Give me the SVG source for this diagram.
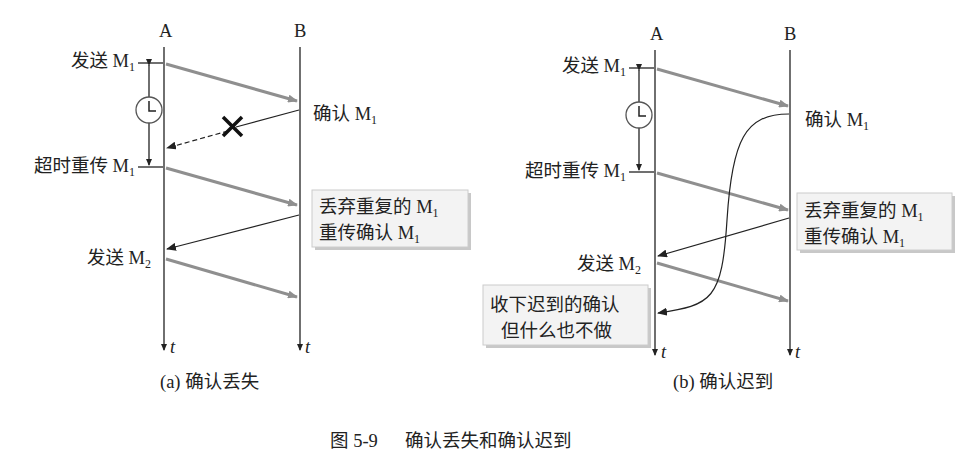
<svg xmlns="http://www.w3.org/2000/svg" width="969" height="467" viewBox="0 0 969 467">
<style>
text{font-family:"Liberation Serif","Noto Sans CJK SC",serif;font-size:18.5px;fill:#222}
.it{font-style:italic}
.e{text-anchor:end}
.tl{stroke:#222;stroke-width:1.3;fill:none}
.msg{stroke:#8f8f8f;stroke-width:3;fill:none}
.ack{stroke:#222;stroke-width:1.2;fill:none}
.box{fill:#f3f3f3;stroke:#ccc;stroke-width:1}
.sh{fill:#c8c8c8}
</style>
<defs>
<marker id="ah" markerWidth="10" markerHeight="8" refX="9" refY="4" orient="auto" markerUnits="userSpaceOnUse"><path d="M0,0 L10,4 L0,8 Z" fill="#222"/></marker>
<marker id="ag" markerWidth="10" markerHeight="8" refX="9" refY="4" orient="auto" markerUnits="userSpaceOnUse"><path d="M0,0 L10,4 L0,8 Z" fill="#8f8f8f"/></marker>
<marker id="as" markerWidth="7" markerHeight="6" refX="6" refY="3" orient="auto" markerUnits="userSpaceOnUse"><path d="M0,0 L7,3 L0,6 Z" fill="#222"/></marker>
</defs>
<rect width="969" height="467" fill="#fff"/>
<g id="panelA">
<g id="timelineA"><text x="159" y="37">A</text><text x="294" y="37">B</text>
<line class="tl" x1="164" y1="47" x2="164" y2="350" marker-end="url(#as)"/>
<line class="tl" x1="300" y1="47" x2="300" y2="350" marker-end="url(#as)"/>
<text class="it" x="170" y="353">t</text><text class="it" x="305" y="353">t</text></g>
<g id="labelsA">
<text class="e" x="135" y="67">发送 M<tspan font-size="12" dy="4">1</tspan></text>
<text class="e" x="135" y="172">超时重传 M<tspan font-size="12" dy="4">1</tspan></text>
<text class="e" x="151" y="264">发送 M<tspan font-size="12" dy="4">2</tspan></text>
<text x="313" y="120">确认 M<tspan font-size="12" dy="4">1</tspan></text>
<line class="tl" x1="138" y1="63" x2="163" y2="63"/><line class="tl" x1="138" y1="167" x2="163" y2="167"/>
<line class="tl" x1="149" y1="65" x2="149" y2="165" marker-start="url(#as)" marker-end="url(#as)"/>
<circle cx="149" cy="110" r="13" fill="#fff" stroke="#555" stroke-width="1.3"/>
<path d="M149,101 V111 H156" stroke="#222" stroke-width="1.5" fill="none"/>
</g>
<g id="boxA"><rect class="sh" x="315" y="193" width="156" height="57"/><rect class="box" x="312" y="190" width="156" height="57"/>
<text x="319" y="213">丢弃重复的 M<tspan font-size="12" dy="4">1</tspan></text>
<text x="319" y="239">重传确认 M<tspan font-size="12" dy="4">1</tspan></text></g>
</g>
<g id="panelB">
<g id="timelineB"><text x="650" y="40">A</text><text x="784" y="40">B</text>
<line class="tl" x1="655" y1="50" x2="655" y2="355" marker-end="url(#as)"/>
<line class="tl" x1="790" y1="50" x2="790" y2="355" marker-end="url(#as)"/>
<text class="it" x="661" y="358">t</text><text class="it" x="795" y="358">t</text></g>
<g id="labelsB">
<text class="e" x="626" y="72">发送 M<tspan font-size="12" dy="4">1</tspan></text>
<text class="e" x="626" y="177">超时重传 M<tspan font-size="12" dy="4">1</tspan></text>
<text class="e" x="641" y="270">发送 M<tspan font-size="12" dy="4">2</tspan></text>
<text x="805" y="126">确认 M<tspan font-size="12" dy="4">1</tspan></text>
<line class="tl" x1="629" y1="68" x2="654" y2="68"/><line class="tl" x1="629" y1="172" x2="654" y2="172"/>
<line class="tl" x1="639" y1="70" x2="639" y2="170" marker-start="url(#as)" marker-end="url(#as)"/>
<circle cx="639" cy="115" r="13" fill="#fff" stroke="#555" stroke-width="1.3"/>
<path d="M639,106 V116 H646" stroke="#222" stroke-width="1.5" fill="none"/>
</g>
<g id="boxB1"><rect class="sh" x="800" y="196" width="155" height="57"/><rect class="box" x="797" y="193" width="155" height="57"/>
<text x="804" y="217">丢弃重复的 M<tspan font-size="12" dy="4">1</tspan></text>
<text x="804" y="243">重传确认 M<tspan font-size="12" dy="4">1</tspan></text></g>
<g id="boxB2"><rect class="sh" x="486" y="288" width="165" height="60"/><rect class="box" x="483" y="285" width="165" height="60"/>
<text x="490" y="311">收下迟到的确认</text>
<text x="501" y="337">但什么也不做</text></g>
</g>
<g id="connectors">
<line class="msg" x1="166" y1="64" x2="297" y2="101" marker-end="url(#ag)"/>
<line class="msg" x1="166" y1="168" x2="297" y2="205" marker-end="url(#ag)"/>
<line class="msg" x1="166" y1="259" x2="297" y2="297" marker-end="url(#ag)"/>
<line class="ack" x1="299" y1="110" x2="236" y2="127"/>
<line class="ack" x1="228" y1="131" x2="167" y2="148" stroke-dasharray="5,3" marker-end="url(#ah)"/>
<path d="M223,117 L242,136 M242,117 L223,136" stroke="#111" stroke-width="3.5"/>
<line class="ack" x1="299" y1="215" x2="167" y2="249" marker-end="url(#ah)"/>
<line class="msg" x1="657" y1="69" x2="788" y2="106" marker-end="url(#ag)"/>
<line class="msg" x1="657" y1="173" x2="788" y2="210" marker-end="url(#ag)"/>
<line class="msg" x1="657" y1="263" x2="788" y2="301" marker-end="url(#ag)"/>
<path class="ack" d="M789,114 C745,114 732,140 727,220 C722,300 712,305 658,313" marker-end="url(#ah)"/>
<line class="ack" x1="789" y1="218" x2="658" y2="256" marker-end="url(#ah)"/>
</g>
<g id="captions">
<text x="160" y="388">(a) 确认丢失</text>
<text x="673" y="388">(b) 确认迟到</text>
<text x="330" y="447" font-size="19">图 5-9</text>
<text x="405" y="447" font-size="19">确认丢失和确认迟到</text>
</g>
</svg>
